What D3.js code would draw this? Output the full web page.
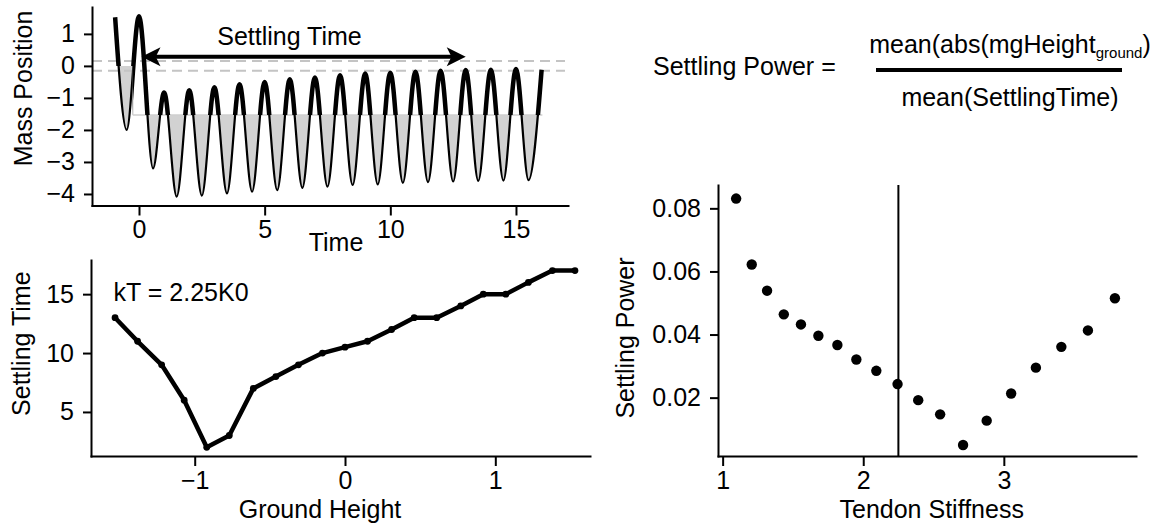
<!DOCTYPE html>
<html><head><meta charset="utf-8">
<script src="https://cdn.jsdelivr.net/npm/d3@7"></script>
<style>
body{margin:0;background:#fff;}
svg{display:block;font-family:"Liberation Sans",Arial,Helvetica,sans-serif;}
</style></head><body>
<svg id="c" width="1171" height="523"></svg>
<script>
// ---------------- data ----------------
// Panel A: mass position trace (peaks / troughs)
const traceTime = [-0.95,-0.49,0.0,0.56,1.0,1.5,2.0,2.5,3.0,3.5,4.0,4.5,5.0,5.5,6.0,6.5,7.0,7.5,8.0,8.5,9.0,9.5,10.0,10.5,11.0,11.5,12.0,12.5,13.0,13.5,14.0,14.5,15.0,15.5,16.02];
const tracePos  = [1.52,-2.0,1.55,-3.2,-0.83,-4.08,-0.76,-4.05,-0.67,-3.98,-0.57,-3.93,-0.5,-3.88,-0.42,-3.81,-0.36,-3.77,-0.29,-3.72,-0.24,-3.7,-0.21,-3.65,-0.18,-3.63,-0.15,-3.61,-0.13,-3.59,-0.12,-3.58,-0.1,-3.57,-0.12];
const firstLevel = 0;
const settleLevel = -1.53;
const levelSwitchTime = -0.25;
const settleLineEnd = 16.05;
const bandLevels = [0.15, -0.15];
const bandEnd = 16.95;
const arrowStart = 0.1, arrowEnd = 13.0, arrowLevel = 0.29;
const timeDomain = [-1.87, 17.07];
const posDomain = [-4.36, 1.84];
const timeTicks = [0, 5, 10, 15];
const posTicks = [-4, -3, -2, -1, 0, 1];

// Panel B: settling time vs ground height
const groundHeight = [-1.53,-1.38,-1.22,-1.07,-0.92,-0.77,-0.61,-0.46,-0.31,-0.15,0,0.15,0.31,0.46,0.61,0.77,0.92,1.07,1.22,1.38,1.53];
const settlingTime = [13,11,9,6,2,3,7,8,9,10,10.5,11,12,13,13,14,15,15,16,17,17];
const heightDomain = [-1.69, 1.63];
const settleDomain = [1.26, 17.9];
const heightTicks = [-1, 0, 1];
const settleTicks = [5, 10, 15];

// Panel C: settling power vs tendon stiffness
const tendonStiffness = [1.096,1.207,1.316,1.435,1.557,1.681,1.816,1.951,2.093,2.244,2.391,2.547,2.71,2.878,3.052,3.228,3.409,3.598,3.79];
const settlingPower  = [0.0831,0.0622,0.0539,0.0464,0.0432,0.0396,0.0367,0.0321,0.0285,0.0243,0.0192,0.0147,0.0050,0.0127,0.0213,0.0295,0.0361,0.0413,0.0515];
const chosenStiffness = 2.25;
const stiffDomain = [0.967, 3.94];
const powerDomain = [0.0015, 0.0874];
const stiffTicks = [1, 2, 3];
const powerTicks = [0.02, 0.04, 0.06, 0.08];

// ---------------- drawing ----------------
const svg = d3.select("#c");
const FS = 25;
const minus = d => (d < 0 ? "\u2212" + Math.abs(d) : String(d));

function styleAxis(g){
  g.attr("font-size", FS).attr("font-family", null);
  g.selectAll("path.domain").attr("stroke","#000").attr("stroke-width",2).attr("stroke-linecap","square");
  g.selectAll(".tick line").attr("stroke","#000").attr("stroke-width",2);
  g.selectAll(".tick text").attr("fill","#000");
}
function axes(x, y, xt, yt, xfmt, yfmt){
  const gx = svg.append("g").attr("transform",`translate(0,${y.range()[0]})`)
    .call(d3.axisBottom(x).tickValues(xt).tickFormat(xfmt).tickSize(10).tickPadding(5).tickSizeOuter(0));
  styleAxis(gx);
  const gy = svg.append("g").attr("transform",`translate(${x.range()[0]},0)`)
    .call(d3.axisLeft(y).tickValues(yt).tickFormat(yfmt).tickSize(8).tickPadding(9).tickSizeOuter(0));
  styleAxis(gy);
}
function label(txt, x, y, rot, anchor){
  const t = svg.append("text").attr("font-size",FS).attr("fill","#000")
    .attr("text-anchor", anchor || "middle").text(txt);
  if (rot) t.attr("transform",`translate(${x},${y}) rotate(-90)`);
  else t.attr("x",x).attr("y",y);
  return t;
}

// ===== Panel A =====
const xA = d3.scaleLinear().domain(timeDomain).range([92, 568]);
const yA = d3.scaleLinear().domain(posDomain).range([205.5, 7]);
const trace = traceTime.map((t,i)=>[t, tracePos[i]]);

const defs = svg.append("defs");
const cAbove = defs.append("clipPath").attr("id","above");
cAbove.append("rect").attr("x",0).attr("y",0).attr("width",xA(levelSwitchTime)).attr("height",yA(firstLevel));
cAbove.append("rect").attr("x",xA(levelSwitchTime)).attr("y",0).attr("width",700).attr("height",yA(settleLevel));
const cBelow = defs.append("clipPath").attr("id","below");
cBelow.append("rect").attr("x",0).attr("y",yA(firstLevel)).attr("width",xA(levelSwitchTime)).attr("height",300);
cBelow.append("rect").attr("x",xA(levelSwitchTime)).attr("y",yA(settleLevel)).attr("width",700).attr("height",300);

const area = d3.area().x(d=>xA(d[0])).y0(d=>yA(d[1])).y1(0).curve(d3.curveMonotoneX);
svg.append("path").attr("d",area(trace)).attr("fill","#d2d2d2").attr("clip-path","url(#below)");

// grey reference lines
bandLevels.forEach(b=>{
  svg.append("line").attr("x1",xA(timeDomain[0])).attr("x2",xA(bandEnd))
    .attr("y1",yA(b)).attr("y2",yA(b))
    .attr("stroke","#c4c4c4").attr("stroke-width",2).attr("stroke-dasharray","10,6");
});
svg.append("line").attr("x1",xA(levelSwitchTime)).attr("x2",xA(settleLineEnd))
  .attr("y1",yA(settleLevel)).attr("y2",yA(settleLevel))
  .attr("stroke","#cfcfcf").attr("stroke-width",1.5);
svg.append("line").attr("x1",xA(levelSwitchTime)).attr("x2",xA(levelSwitchTime))
  .attr("y1",yA(bandLevels[1])).attr("y2",yA(settleLevel))
  .attr("stroke","#cfcfcf").attr("stroke-width",1.5);

const lineA = d3.line().x(d=>xA(d[0])).y(d=>yA(d[1])).curve(d3.curveMonotoneX);
svg.append("path").attr("d",lineA(trace)).attr("fill","none").attr("stroke","#000")
  .attr("stroke-width",2.2).attr("clip-path","url(#below)");
svg.append("path").attr("d",lineA(trace)).attr("fill","none").attr("stroke","#000")
  .attr("stroke-width",4.5).attr("clip-path","url(#above)");

// double arrow
{
  const ax0 = xA(arrowStart), ax1 = xA(arrowEnd), ay = yA(arrowLevel);
  const L = 19, W = 9.5, N = 0.75;
  svg.append("line").attr("x1",ax0+L*0.7).attr("x2",ax1-L*0.7).attr("y1",ay).attr("y2",ay)
    .attr("stroke","#000").attr("stroke-width",4);
  svg.append("path").attr("fill","#000")
    .attr("d",`M${ax0},${ay} L${ax0+L},${ay-W} L${ax0+L*N},${ay} L${ax0+L},${ay+W} Z`);
  svg.append("path").attr("fill","#000")
    .attr("d",`M${ax1},${ay} L${ax1-L},${ay-W} L${ax1-L*N},${ay} L${ax1-L},${ay+W} Z`);
}
label("Settling Time", 289.5, 45);

axes(xA, yA, timeTicks, posTicks, minus, minus);
label("Time", 336, 251);
label("Mass Position", 32, 88.5, true);

// ===== Panel B =====
const xB = d3.scaleLinear().domain(heightDomain).range([91, 590]);
const yB = d3.scaleLinear().domain(settleDomain).range([456, 260]);
const ptsB = groundHeight.map((g,i)=>[g, settlingTime[i]]);
svg.append("path").attr("d", d3.line().x(d=>xB(d[0])).y(d=>yB(d[1]))(ptsB))
  .attr("fill","none").attr("stroke","#000").attr("stroke-width",4.5)
  .attr("stroke-linejoin","round").attr("stroke-linecap","round");
svg.append("g").selectAll("circle").data(ptsB).join("circle")
  .attr("cx",d=>xB(d[0])).attr("cy",d=>yB(d[1])).attr("r",3.4).attr("fill","#000");
axes(xB, yB, heightTicks, settleTicks, minus, minus);
label("kT = 2.25K0", 113.5, 301, false, "start");
label("Ground Height", 320, 517.5);
label("Settling Time", 30, 343.7, true);

// ===== Panel C =====
const xC = d3.scaleLinear().domain(stiffDomain).range([718, 1136]);
const yC = d3.scaleLinear().domain(powerDomain).range([456, 185]);
svg.append("line").attr("x1",xC(chosenStiffness)).attr("x2",xC(chosenStiffness))
  .attr("y1",yC.range()[1]).attr("y2",yC.range()[0]).attr("stroke","#000").attr("stroke-width",2);
svg.append("g").selectAll("circle").data(tendonStiffness).join("circle")
  .attr("cx",d=>xC(d)).attr("cy",(d,i)=>yC(settlingPower[i])).attr("r",5.2).attr("fill","#000");
axes(xC, yC, stiffTicks, powerTicks, d3.format("d"), d3.format(".2f"));
label("Tendon Stiffness", 931.7, 517.5);
label("Settling Power", 634, 338, true);

// ===== Formula =====
label("Settling Power =", 653, 75, false, "start");
svg.append("line").attr("x1",876).attr("x2",1122).attr("y1",70).attr("y2",70)
  .attr("stroke","#000").attr("stroke-width",4);
const num = svg.append("text").attr("font-size",FS).attr("fill","#000").attr("x",1010).attr("y",53).attr("text-anchor","middle");
num.append("tspan").text("mean(abs(mgHeight");
num.append("tspan").attr("font-size",15).attr("dy",5).text("ground");
num.append("tspan").attr("dy",-5).text(")");
label("mean(SettlingTime)", 1010, 106);
</script>
</body></html>
